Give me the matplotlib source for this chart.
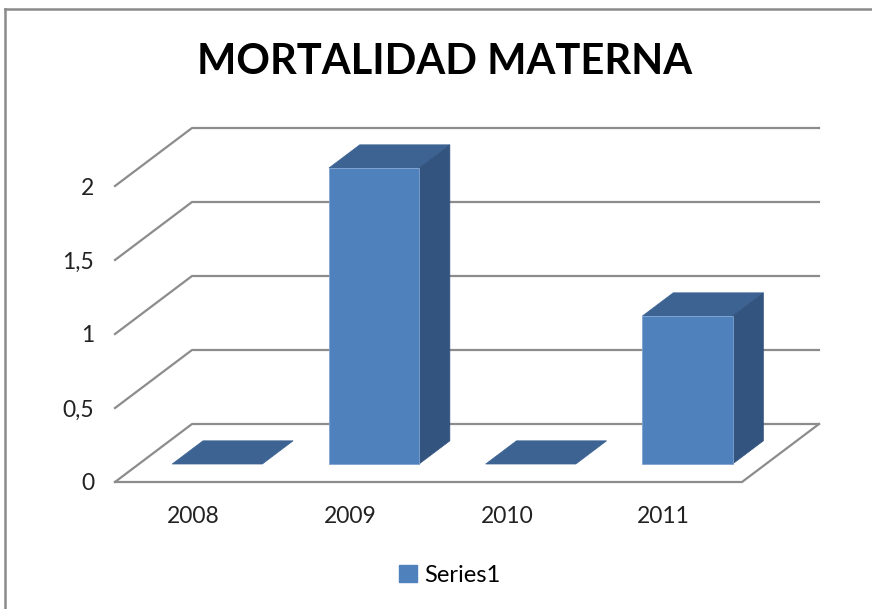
import matplotlib
matplotlib.use("Agg")
import matplotlib.pyplot as plt
from matplotlib.patches import Polygon, Patch
from matplotlib.lines import Line2D

# ---- data ----
categories = ["2008", "2009", "2010", "2011"]
values = [0, 2, 0, 1]
yticks = [0, 0.5, 1, 1.5, 2]
ytick_labels = ["0", "0,5", "1", "1,5", "2"]
title = "MORTALIDAD MATERNA"
series_name = "Series1"

# ---- style ----
FRONT = "#4F81BD"
TOP = "#3D6393"
SIDE = "#33547F"
GRID = "#8C8C8C"
FONT = "Lato"

W, H, DPI = 872, 609, 100
fig = plt.figure(figsize=(W / DPI, H / DPI), dpi=DPI)

# pixel mapping of the front floor plane
px_x0, px_unit_x = 115, 156.75
px_y0, px_unit_y = 482, 148.0
n = len(categories)
xmax_data, ymax_data = n, 2.6
ax = fig.add_axes([px_x0 / W, (H - px_y0) / H,
                   n * px_unit_x / W, ymax_data * px_unit_y / H])
ax.set_xlim(0, xmax_data)
ax.set_ylim(0, ymax_data)
for s in ax.spines.values():
    s.set_visible(False)
ax.set_facecolor("none")

# projection offsets of the floor depth (data units)
DX, DY = 77 / px_unit_x, 58 / px_unit_y
D0, D1 = 0.31, 0.71
BW = 0.575

# gridlines
for v in yticks:
    ax.add_line(Line2D([0, DX, n + DX], [v, v + DY, v + DY], color=GRID,
                       lw=1.6, clip_on=False, zorder=1))
# floor outline
ax.add_line(Line2D([0, n, n + DX], [0, 0, DY], color=GRID, lw=1.6,
                   clip_on=False, zorder=1))

# bars
for i, val in enumerate(values):
    x0 = i + (1 - BW) / 2
    x1 = x0 + BW
    fx0, fx1 = x0 + D0 * DX, x1 + D0 * DX
    bx0, bx1 = x0 + D1 * DX, x1 + D1 * DX
    fy, by = D0 * DY, D1 * DY
    top = Polygon([(fx0, fy + val), (fx1, fy + val), (bx1, by + val), (bx0, by + val)],
                  closed=True, facecolor=TOP, edgecolor=TOP, lw=0.5,
                  clip_on=False, zorder=3)
    ax.add_patch(top)
    if val > 0:
        side = Polygon([(fx1, fy), (bx1, by), (bx1, by + val), (fx1, fy + val)],
                       closed=True, facecolor=SIDE, edgecolor=SIDE, lw=0.5,
                       clip_on=False, zorder=3)
        front = Polygon([(fx0, fy), (fx1, fy), (fx1, fy + val), (fx0, fy + val)],
                        closed=True, facecolor=FRONT, edgecolor="#7FA3D0", lw=0.6,
                        clip_on=False, zorder=4)
        ax.add_patch(side)
        ax.add_patch(front)

# ticks
ax.set_xticks([i + 0.5 for i in range(n)])
ax.set_xticklabels(categories, fontsize=16.5, fontname=FONT, color="#222222")
ax.set_yticks(yticks)
ax.set_yticklabels(ytick_labels, fontsize=16.5, fontname=FONT, color="#222222")
ax.tick_params(axis="x", length=0, pad=17)
ax.tick_params(axis="y", length=0, pad=15)

# title
fig.text(445 / W, 1 - 62 / H, title, ha="center", va="center",
         fontsize=30, fontweight="bold", fontname=FONT, color="black")

# legend
fig.legend(handles=[Patch(facecolor=FRONT, edgecolor=FRONT, label=series_name)],
           loc="center", bbox_to_anchor=(450 / W, 1 - 575 / H), frameon=False,
           prop={"family": FONT, "size": 17}, handlelength=0.75, handleheight=0.75,
           handletextpad=0.3)

# outer frame (top and left edges of the chart area border)
fig.add_artist(Line2D([5 / W, 1.0], [1 - 9 / H, 1 - 9 / H], transform=fig.transFigure,
                      color="#8A8A8A", lw=1.8))
fig.add_artist(Line2D([5 / W, 5 / W], [0.0, 1 - 9 / H], transform=fig.transFigure,
                      color="#8A8A8A", lw=1.8))

fig.savefig("out.png", dpi=DPI, facecolor="white")
